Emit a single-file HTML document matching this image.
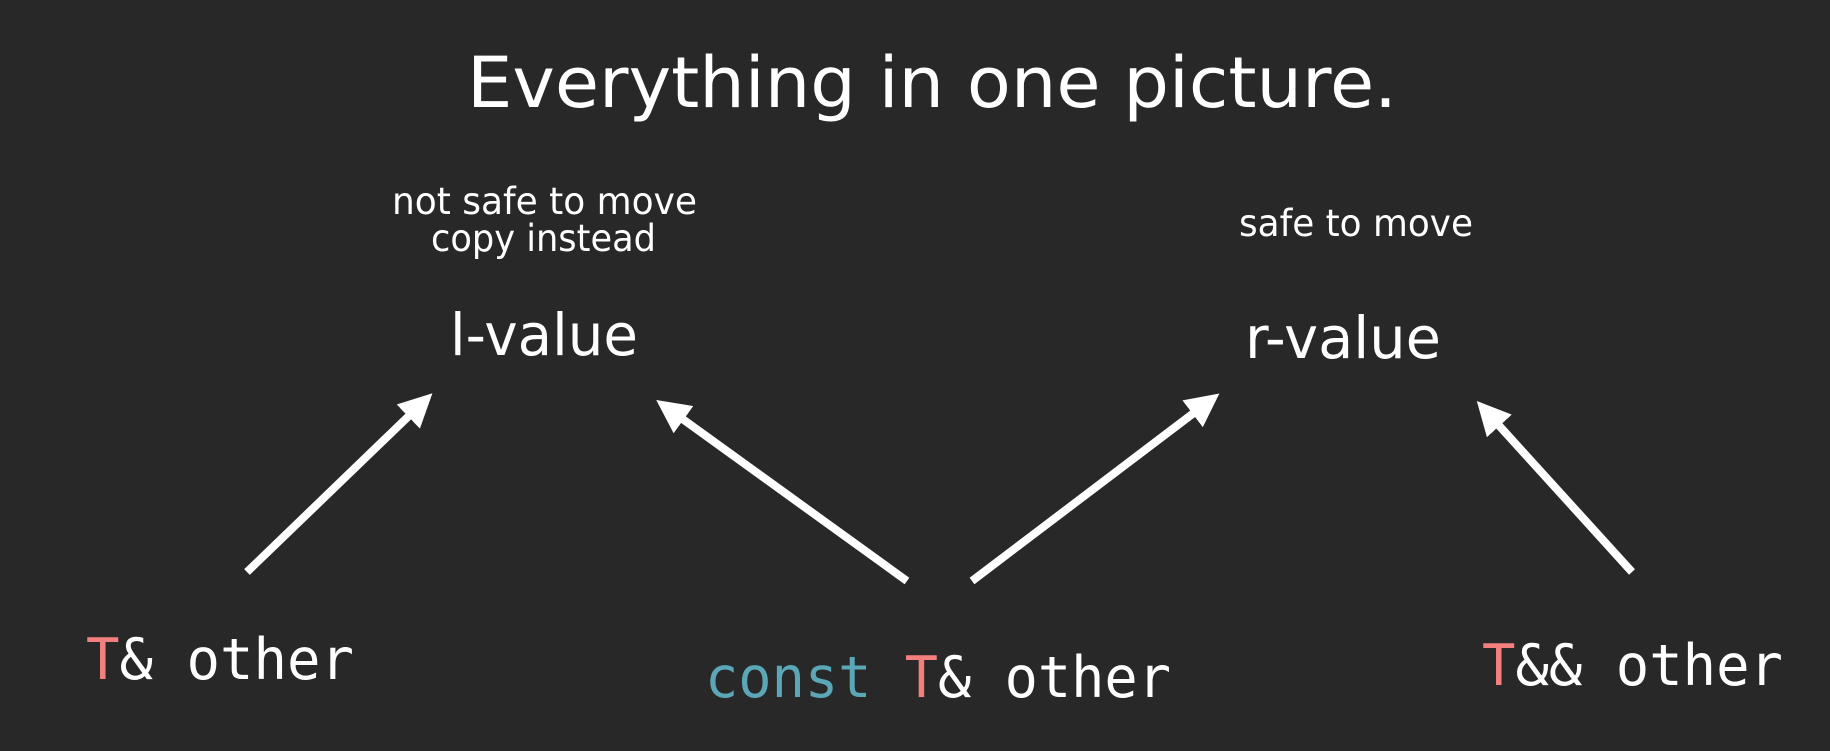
<!DOCTYPE html>
<html><head><meta charset="utf-8"><style>
html,body{margin:0;padding:0;background:#282828;}
svg{display:block}
</style></head><body>
<svg width="1830" height="751" viewBox="0 0 1830 751" xmlns="http://www.w3.org/2000/svg">
<rect width="1830" height="751" fill="#282828"/>
<defs>
<marker id="ah" markerWidth="4.2" markerHeight="4.2" refX="1" refY="2.1" orient="auto" markerUnits="strokeWidth">
<path d="M0,0 L4.2,2.1 L0,4.2 Z" fill="#fff"/>
</marker>
</defs>
<g font-family="'DejaVu Sans', 'Liberation Sans', sans-serif" fill="#fff">
<text x="467" y="107" font-size="70" textLength="930" lengthAdjust="spacingAndGlyphs">Everything in one picture.</text>
<text x="392" y="214" font-size="37" textLength="305" lengthAdjust="spacingAndGlyphs">not safe to move</text>
<text x="431" y="251" font-size="37" textLength="225" lengthAdjust="spacingAndGlyphs">copy instead</text>
<text x="1239" y="236" font-size="37" textLength="234" lengthAdjust="spacingAndGlyphs">safe to move</text>
<text x="450" y="355" font-size="58" textLength="188" lengthAdjust="spacingAndGlyphs">l-value</text>
<text x="1245" y="358" font-size="58" textLength="196" lengthAdjust="spacingAndGlyphs">r-value</text>
</g>
<g font-family="'DejaVu Sans Mono', 'Liberation Mono', monospace" font-size="57" fill="#fff">
<text x="86" y="679" textLength="268" lengthAdjust="spacingAndGlyphs"><tspan fill="#f47f7f">T</tspan>&amp; other</text>
<text x="705" y="697" textLength="466" lengthAdjust="spacingAndGlyphs"><tspan fill="#5ba7b8">const</tspan> <tspan fill="#f47f7f">T</tspan>&amp; other</text>
<text x="1482" y="685" textLength="301" lengthAdjust="spacingAndGlyphs"><tspan fill="#f47f7f">T</tspan>&amp;&amp; other</text>
</g>
<g stroke="#fff" stroke-width="8" fill="none">
<line x1="247" y1="572" x2="414" y2="411" marker-end="url(#ah)"/>
<line x1="907" y1="581" x2="677" y2="415" marker-end="url(#ah)"/>
<line x1="972" y1="581" x2="1199" y2="409" marker-end="url(#ah)"/>
<line x1="1632" y1="572" x2="1494" y2="420" marker-end="url(#ah)"/>
</g>
</svg>
</body></html>
